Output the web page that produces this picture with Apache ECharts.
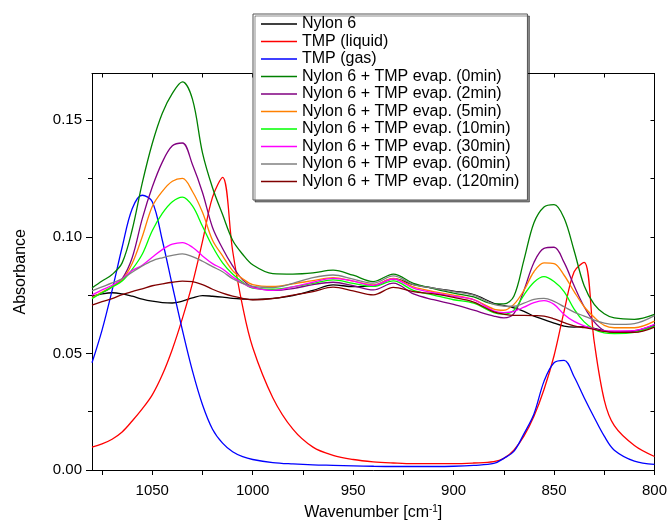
<!DOCTYPE html>
<html><head><meta charset="utf-8">
<script src="https://cdn.jsdelivr.net/npm/echarts@6/dist/echarts.min.js"></script>
<style>html,body{margin:0;padding:0;background:#fff}#c{width:670px;height:527px}</style>
</head><body><div id="c"></div>
<script>
// Wavenumber sampling positions (cm^-1)
const wavenumbers = [1080,1075,1070,1065,1060,1055,1050,1045,1040,1035,1030,1025,1020,1015,1010,1005,1000,990,980,970,960,950,940,930,920,910,900,890,880,875,870,865,860,855,850,845,840,835,830,825,820,810,800];

const nylon6 = [0.0745,0.0755,0.0760,0.0755,0.0745,0.0733,0.0724,0.0718,0.0716,0.0724,0.0738,0.0748,0.0745,0.0741,0.0736,0.0733,0.0731,0.0736,0.0748,0.0770,0.0794,0.0786,0.0789,0.0820,0.0795,0.0780,0.0767,0.0752,0.0715,0.0705,0.0695,0.0680,0.0660,0.0645,0.0630,0.0617,0.0613,0.0614,0.0607,0.0597,0.0590,0.0595,0.0622];
const tmpLiquid = [0.0098,0.0112,0.0132,0.0163,0.0210,0.0262,0.0322,0.0408,0.0518,0.0650,0.0800,0.0980,0.1170,0.1255,0.0940,0.0700,0.0525,0.0310,0.0175,0.0098,0.0063,0.0045,0.0035,0.0030,0.0027,0.0027,0.0027,0.0030,0.0036,0.0050,0.0085,0.0145,0.0230,0.0345,0.0490,0.0680,0.0850,0.0890,0.0550,0.0300,0.0190,0.0105,0.0058];
const tmpGas = [0.0460,0.0600,0.0770,0.0955,0.1120,0.1178,0.1150,0.0985,0.0790,0.0600,0.0425,0.0280,0.0175,0.0115,0.0078,0.0057,0.0045,0.0032,0.0026,0.0022,0.0020,0.0018,0.0016,0.0015,0.0015,0.0015,0.0016,0.0020,0.0028,0.0050,0.0080,0.0155,0.0240,0.0380,0.0460,0.0470,0.0400,0.0310,0.0225,0.0145,0.0085,0.0038,0.0024];
const evap0 = [0.0780,0.0810,0.0838,0.0888,0.1030,0.1230,0.1400,0.1530,0.1615,0.1664,0.1590,0.1360,0.1210,0.1095,0.0985,0.0925,0.0880,0.0842,0.0840,0.0845,0.0857,0.0835,0.0808,0.0840,0.0800,0.0778,0.0758,0.0742,0.0712,0.0712,0.0745,0.0900,0.1060,0.1128,0.1138,0.1080,0.0940,0.0790,0.0710,0.0670,0.0652,0.0646,0.0667];
const evap2 = [0.0740,0.0760,0.0785,0.0820,0.0910,0.1077,0.1213,0.1320,0.1390,0.1402,0.1310,0.1190,0.1040,0.0950,0.0875,0.0815,0.0785,0.0770,0.0778,0.0795,0.0805,0.0790,0.0772,0.0801,0.0755,0.0730,0.0710,0.0685,0.0660,0.0652,0.0670,0.0770,0.0890,0.0950,0.0955,0.0890,0.0790,0.0700,0.0635,0.0598,0.0592,0.0597,0.0617];
const evap5 = [0.0738,0.0763,0.0785,0.0815,0.0885,0.1000,0.1130,0.1195,0.1238,0.1250,0.1194,0.1105,0.0985,0.0918,0.0855,0.0820,0.0795,0.0787,0.0798,0.0812,0.0825,0.0810,0.0794,0.0822,0.0785,0.0765,0.0750,0.0730,0.0690,0.0685,0.0710,0.0770,0.0850,0.0888,0.0885,0.0835,0.0765,0.0700,0.0655,0.0620,0.0610,0.0610,0.0638];
const evap10 = [0.0735,0.0760,0.0785,0.0810,0.0860,0.0925,0.1026,0.1100,0.1150,0.1170,0.1132,0.1045,0.0958,0.0888,0.0840,0.0805,0.0780,0.0775,0.0785,0.0800,0.0815,0.0800,0.0787,0.0811,0.0770,0.0750,0.0730,0.0715,0.0675,0.0668,0.0685,0.0750,0.0805,0.0829,0.0808,0.0765,0.0690,0.0635,0.0603,0.0588,0.0585,0.0590,0.0617];
const evap30 = [0.0750,0.0772,0.0792,0.0820,0.0855,0.0878,0.0912,0.0945,0.0968,0.0975,0.0955,0.0918,0.0885,0.0862,0.0828,0.0800,0.0782,0.0770,0.0785,0.0805,0.0822,0.0810,0.0792,0.0819,0.0780,0.0760,0.0745,0.0730,0.0682,0.0675,0.0680,0.0698,0.0718,0.0726,0.0710,0.0667,0.0637,0.0618,0.0605,0.0596,0.0596,0.0598,0.0624];
const evap60 = [0.0768,0.0785,0.0802,0.0820,0.0848,0.0875,0.0897,0.0910,0.0920,0.0927,0.0915,0.0895,0.0872,0.0850,0.0820,0.0800,0.0787,0.0782,0.0800,0.0825,0.0836,0.0818,0.0801,0.0832,0.0795,0.0780,0.0765,0.0750,0.0710,0.0703,0.0702,0.0715,0.0732,0.0736,0.0723,0.0700,0.0677,0.0660,0.0643,0.0630,0.0624,0.0628,0.0662];
const evap120 = [0.0707,0.0722,0.0735,0.0752,0.0765,0.0777,0.0790,0.0798,0.0805,0.0810,0.0808,0.0795,0.0775,0.0758,0.0745,0.0736,0.0730,0.0735,0.0750,0.0765,0.0784,0.0768,0.0751,0.0783,0.0765,0.0755,0.0740,0.0720,0.0678,0.0668,0.0663,0.0663,0.0662,0.0660,0.0648,0.0632,0.0618,0.0610,0.0603,0.0594,0.0590,0.0590,0.0613];

const seriesNames = ['Nylon 6','TMP (liquid)','TMP (gas)','Nylon 6 + TMP evap. (0min)','Nylon 6 + TMP evap. (2min)','Nylon 6 + TMP evap. (5min)','Nylon 6 + TMP evap. (10min)','Nylon 6 + TMP evap. (30min)','Nylon 6 + TMP evap. (60min)','Nylon 6 + TMP evap. (120min)'];
const seriesColors = ['#000000','#ff0000','#0000ff','#008000','#800080','#ff8000','#00ff00','#ff00ff','#808080','#800000'];
const seriesValues = [nylon6,tmpLiquid,tmpGas,evap0,evap2,evap5,evap10,evap30,evap60,evap120];

const xMajorTicks = [800,850,900,950,1000,1050];
const xMinorTicks = [825,875,925,975,1025,1075];
const yMajorTicks = [0,0.05,0.10,0.15];
const yMinorTicks = [0.025,0.075,0.125];

const FONT = '"Liberation Sans", Arial, sans-serif';
const chart = echarts.init(document.getElementById('c'), null, {renderer:'canvas'});
const black = {color:'#000', width:1};
const xAll = xMajorTicks.concat(xMinorTicks).sort((a,b)=>a-b);
const yAll = yMajorTicks.concat(yMinorTicks).sort((a,b)=>a-b);

const option = {
  animation:false,
  backgroundColor:'#fff',
  grid:{left:92, right:11.5, top:73.5, bottom:52.7, containLabel:false},
  xAxis:[
    {type:'value', min:800, max:1080, inverse:true, position:'bottom',
     axisLine:{show:true, onZero:false, lineStyle:black},
     axisTick:{show:true, customValues:xAll, length:5, inside:false, lineStyle:black},
     axisLabel:{show:true, customValues:xMajorTicks, fontSize:15, color:'#000', fontFamily:FONT, margin:13,
       formatter:v=>String(v)},
     splitLine:{show:false},
     name:'Wavenumber [cm{s|-1}]', nameLocation:'middle', nameGap:34,
     nameTextStyle:{fontSize:16, color:'#000', fontFamily:FONT, lineHeight:18,
       rich:{s:{fontSize:10, color:'#000', fontFamily:FONT, verticalAlign:'top', lineHeight:10}}}},
    {type:'value', min:800, max:1080, inverse:true, position:'top',
     axisLine:{show:true, onZero:false, lineStyle:black},
     axisTick:{show:true, customValues:xAll, length:4, inside:true, lineStyle:black},
     axisLabel:{show:false}, splitLine:{show:false}}
  ],
  yAxis:[
    {type:'value', min:0, max:0.17, position:'left',
     axisLine:{show:true, onZero:false, lineStyle:black},
     axisTick:{show:true, customValues:yMajorTicks, length:6, inside:false, lineStyle:black},
     axisLabel:{show:true, customValues:yMajorTicks, fontSize:15, color:'#000', fontFamily:FONT, margin:10,
       formatter:v=>v.toFixed(2)},
     splitLine:{show:false},
     name:'Absorbance', nameLocation:'middle', nameGap:63,
     nameTextStyle:{fontSize:16, color:'#000', fontFamily:FONT}},
    {type:'value', min:0, max:0.17, position:'left',
     axisLine:{show:false},
     axisTick:{show:true, customValues:yMinorTicks, length:4, inside:false, lineStyle:black},
     axisLabel:{show:false}, splitLine:{show:false}},
    {type:'value', min:0, max:0.17, position:'right',
     axisLine:{show:true, onZero:false, lineStyle:black},
     axisTick:{show:true, customValues:yAll, length:4, inside:true, lineStyle:black},
     axisLabel:{show:false}, splitLine:{show:false}}
  ],
  legend:{
    orient:'vertical', left:253, top:14,
    data:seriesNames,
    icon:'rect',
    itemWidth:36, itemHeight:1.6, itemGap:1.5,
    padding:[2,8,10.5,8],
    backgroundColor:'#fff', borderColor:'#555', borderWidth:1,
    shadowColor:'rgba(0,0,0,0.45)', shadowOffsetX:2, shadowOffsetY:2, shadowBlur:0,
    textStyle:{fontSize:16, color:'#000', fontFamily:FONT, lineHeight:16},
    selectedMode:false
  },
  series: seriesNames.map((n,i)=>({
    name:n, type:'line', xAxisIndex:0, yAxisIndex:0,
    data: wavenumbers.map((w,j)=>[w, seriesValues[i][j]]),
    showSymbol:false, symbol:'none', smooth:0.35,
    lineStyle:{color:seriesColors[i], width:1.3},
    itemStyle:{color:seriesColors[i]},
    emphasis:{disabled:true}
  }))
};
chart.setOption(option);
</script>
</body></html>
